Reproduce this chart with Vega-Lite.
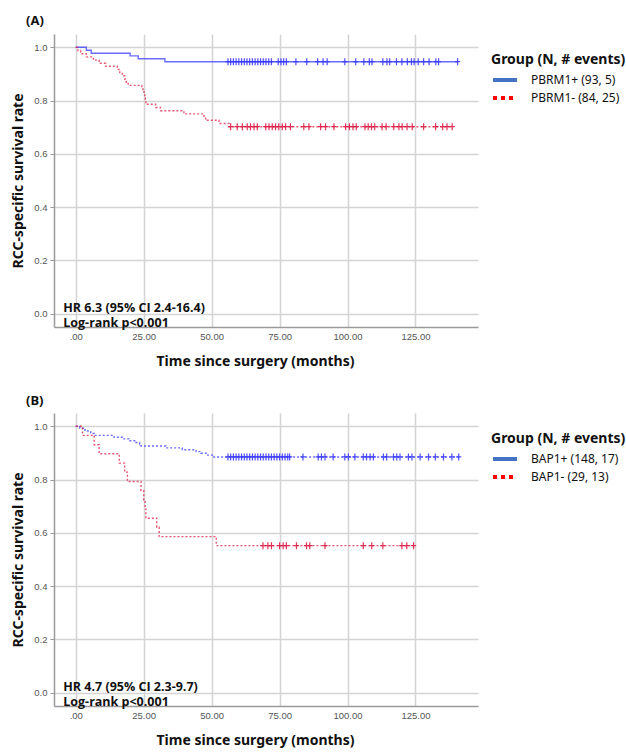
{
  "$schema": "https://vega.github.io/schema/vega-lite/v6.json",
  "padding": {"left": 11, "top": 15, "right": 0, "bottom": 0},
  "background": "white",
  "config": {
    "view": {"stroke": null},
    "font": "Noto Sans",
    "axis": {
      "gridColor": "#d4d4d4", "gridWidth": 1.5, "domainColor": "#9a9a9a", "domainWidth": 1.5,
      "labelFont": "Liberation Sans", "labelFontSize": 9.5, "labelColor": "#555555",
      "titleFont": "Noto Sans", "titleFontSize": 14, "titleFontWeight": "bold", "titleColor": "#111111"
    },
    "title": {"font": "Noto Sans", "fontSize": 13, "fontWeight": "bold", "color": "#111111", "anchor": "start", "frame": "group"},
    "legend": {
      "orient": "none", "legendX": 437, "legendY": 19,
      "titleFont": "Noto Sans", "titleFontSize": 14, "titleFontWeight": "bold", "titleColor": "#111111", "titlePadding": 5,
      "labelFont": "Noto Sans", "labelFontSize": 12, "labelColor": "#111111", "labelOffset": 24,
      "symbolType": "M-1,0H3", "symbolStrokeWidth": 4, "symbolSize": 144, "symbolOpacity": 1, "rowPadding": 2, "titleLimit": 300, "labelLimit": 300
    }
  },
  "datasets": {
    "curveA": [
      {"group": "PBRM1+ (93, 5)", "t": 0, "s": 1},
      {"group": "PBRM1+ (93, 5)", "t": 3.9, "s": 0.989},
      {"group": "PBRM1+ (93, 5)", "t": 5.7, "s": 0.978},
      {"group": "PBRM1+ (93, 5)", "t": 20, "s": 0.968},
      {"group": "PBRM1+ (93, 5)", "t": 23, "s": 0.957},
      {"group": "PBRM1+ (93, 5)", "t": 32.8, "s": 0.946},
      {"group": "PBRM1+ (93, 5)", "t": 140.5, "s": 0.946},
      {"group": "PBRM1- (84, 25)", "t": 0, "s": 1},
      {"group": "PBRM1- (84, 25)", "t": 0.8, "s": 0.988},
      {"group": "PBRM1- (84, 25)", "t": 1.8, "s": 0.976},
      {"group": "PBRM1- (84, 25)", "t": 3.9, "s": 0.964},
      {"group": "PBRM1- (84, 25)", "t": 6.5, "s": 0.952},
      {"group": "PBRM1- (84, 25)", "t": 8.6, "s": 0.94},
      {"group": "PBRM1- (84, 25)", "t": 11, "s": 0.929},
      {"group": "PBRM1- (84, 25)", "t": 15.3, "s": 0.917},
      {"group": "PBRM1- (84, 25)", "t": 16.2, "s": 0.905},
      {"group": "PBRM1- (84, 25)", "t": 17.1, "s": 0.893},
      {"group": "PBRM1- (84, 25)", "t": 18, "s": 0.881},
      {"group": "PBRM1- (84, 25)", "t": 18.6, "s": 0.869},
      {"group": "PBRM1- (84, 25)", "t": 19.3, "s": 0.857},
      {"group": "PBRM1- (84, 25)", "t": 24.3, "s": 0.845},
      {"group": "PBRM1- (84, 25)", "t": 24.7, "s": 0.833},
      {"group": "PBRM1- (84, 25)", "t": 25.1, "s": 0.821},
      {"group": "PBRM1- (84, 25)", "t": 25.4, "s": 0.81},
      {"group": "PBRM1- (84, 25)", "t": 25.6, "s": 0.798},
      {"group": "PBRM1- (84, 25)", "t": 25.8, "s": 0.786},
      {"group": "PBRM1- (84, 25)", "t": 29.4, "s": 0.774},
      {"group": "PBRM1- (84, 25)", "t": 31.2, "s": 0.762},
      {"group": "PBRM1- (84, 25)", "t": 39.8, "s": 0.75},
      {"group": "PBRM1- (84, 25)", "t": 47.2, "s": 0.738},
      {"group": "PBRM1- (84, 25)", "t": 47.8, "s": 0.726},
      {"group": "PBRM1- (84, 25)", "t": 52.7, "s": 0.714},
      {"group": "PBRM1- (84, 25)", "t": 56.4, "s": 0.702},
      {"group": "PBRM1- (84, 25)", "t": 138.5, "s": 0.702}
    ],
    "censorA": [
      {"group": "PBRM1+ (93, 5)", "t": 56, "s": 0.946}, {"group": "PBRM1+ (93, 5)", "t": 57, "s": 0.946},
      {"group": "PBRM1+ (93, 5)", "t": 58, "s": 0.946}, {"group": "PBRM1+ (93, 5)", "t": 59, "s": 0.946},
      {"group": "PBRM1+ (93, 5)", "t": 60, "s": 0.946}, {"group": "PBRM1+ (93, 5)", "t": 61, "s": 0.946},
      {"group": "PBRM1+ (93, 5)", "t": 62, "s": 0.946}, {"group": "PBRM1+ (93, 5)", "t": 63, "s": 0.946},
      {"group": "PBRM1+ (93, 5)", "t": 64, "s": 0.946}, {"group": "PBRM1+ (93, 5)", "t": 65, "s": 0.946},
      {"group": "PBRM1+ (93, 5)", "t": 66, "s": 0.946}, {"group": "PBRM1+ (93, 5)", "t": 67, "s": 0.946},
      {"group": "PBRM1+ (93, 5)", "t": 68, "s": 0.946}, {"group": "PBRM1+ (93, 5)", "t": 69, "s": 0.946},
      {"group": "PBRM1+ (93, 5)", "t": 70, "s": 0.946}, {"group": "PBRM1+ (93, 5)", "t": 71, "s": 0.946},
      {"group": "PBRM1+ (93, 5)", "t": 72, "s": 0.946}, {"group": "PBRM1+ (93, 5)", "t": 74.5, "s": 0.946},
      {"group": "PBRM1+ (93, 5)", "t": 75.5, "s": 0.946}, {"group": "PBRM1+ (93, 5)", "t": 76.5, "s": 0.946},
      {"group": "PBRM1+ (93, 5)", "t": 77.5, "s": 0.946}, {"group": "PBRM1+ (93, 5)", "t": 81, "s": 0.946},
      {"group": "PBRM1+ (93, 5)", "t": 85, "s": 0.946}, {"group": "PBRM1+ (93, 5)", "t": 89, "s": 0.946},
      {"group": "PBRM1+ (93, 5)", "t": 91, "s": 0.946}, {"group": "PBRM1+ (93, 5)", "t": 92.5, "s": 0.946},
      {"group": "PBRM1+ (93, 5)", "t": 99, "s": 0.946}, {"group": "PBRM1+ (93, 5)", "t": 103, "s": 0.946},
      {"group": "PBRM1+ (93, 5)", "t": 106, "s": 0.946}, {"group": "PBRM1+ (93, 5)", "t": 108, "s": 0.946},
      {"group": "PBRM1+ (93, 5)", "t": 109, "s": 0.946}, {"group": "PBRM1+ (93, 5)", "t": 113, "s": 0.946},
      {"group": "PBRM1+ (93, 5)", "t": 114.5, "s": 0.946}, {"group": "PBRM1+ (93, 5)", "t": 115.5, "s": 0.946},
      {"group": "PBRM1+ (93, 5)", "t": 118, "s": 0.946}, {"group": "PBRM1+ (93, 5)", "t": 120, "s": 0.946},
      {"group": "PBRM1+ (93, 5)", "t": 122, "s": 0.946}, {"group": "PBRM1+ (93, 5)", "t": 123.5, "s": 0.946},
      {"group": "PBRM1+ (93, 5)", "t": 124.5, "s": 0.946}, {"group": "PBRM1+ (93, 5)", "t": 126, "s": 0.946},
      {"group": "PBRM1+ (93, 5)", "t": 128, "s": 0.946}, {"group": "PBRM1+ (93, 5)", "t": 130, "s": 0.946},
      {"group": "PBRM1+ (93, 5)", "t": 132.5, "s": 0.946}, {"group": "PBRM1+ (93, 5)", "t": 133.5, "s": 0.946},
      {"group": "PBRM1+ (93, 5)", "t": 140.5, "s": 0.946},
      {"group": "PBRM1- (84, 25)", "t": 57, "s": 0.702}, {"group": "PBRM1- (84, 25)", "t": 59.4, "s": 0.702},
      {"group": "PBRM1- (84, 25)", "t": 61.3, "s": 0.702}, {"group": "PBRM1- (84, 25)", "t": 63.1, "s": 0.702},
      {"group": "PBRM1- (84, 25)", "t": 64.3, "s": 0.702}, {"group": "PBRM1- (84, 25)", "t": 65.6, "s": 0.702},
      {"group": "PBRM1- (84, 25)", "t": 66.8, "s": 0.702}, {"group": "PBRM1- (84, 25)", "t": 69.9, "s": 0.702},
      {"group": "PBRM1- (84, 25)", "t": 71.1, "s": 0.702}, {"group": "PBRM1- (84, 25)", "t": 72.3, "s": 0.702},
      {"group": "PBRM1- (84, 25)", "t": 73.5, "s": 0.702}, {"group": "PBRM1- (84, 25)", "t": 74.7, "s": 0.702},
      {"group": "PBRM1- (84, 25)", "t": 76, "s": 0.702}, {"group": "PBRM1- (84, 25)", "t": 77.2, "s": 0.702},
      {"group": "PBRM1- (84, 25)", "t": 79, "s": 0.702}, {"group": "PBRM1- (84, 25)", "t": 83.9, "s": 0.702},
      {"group": "PBRM1- (84, 25)", "t": 85.8, "s": 0.702}, {"group": "PBRM1- (84, 25)", "t": 90.1, "s": 0.702},
      {"group": "PBRM1- (84, 25)", "t": 91.9, "s": 0.702}, {"group": "PBRM1- (84, 25)", "t": 95, "s": 0.702},
      {"group": "PBRM1- (84, 25)", "t": 99.3, "s": 0.702}, {"group": "PBRM1- (84, 25)", "t": 100.7, "s": 0.702},
      {"group": "PBRM1- (84, 25)", "t": 102, "s": 0.702}, {"group": "PBRM1- (84, 25)", "t": 103.2, "s": 0.702},
      {"group": "PBRM1- (84, 25)", "t": 106.4, "s": 0.702}, {"group": "PBRM1- (84, 25)", "t": 107.6, "s": 0.702},
      {"group": "PBRM1- (84, 25)", "t": 108.8, "s": 0.702}, {"group": "PBRM1- (84, 25)", "t": 110, "s": 0.702},
      {"group": "PBRM1- (84, 25)", "t": 112.7, "s": 0.702}, {"group": "PBRM1- (84, 25)", "t": 114.2, "s": 0.702},
      {"group": "PBRM1- (84, 25)", "t": 117, "s": 0.702}, {"group": "PBRM1- (84, 25)", "t": 118.9, "s": 0.702},
      {"group": "PBRM1- (84, 25)", "t": 120.1, "s": 0.702}, {"group": "PBRM1- (84, 25)", "t": 121.9, "s": 0.702},
      {"group": "PBRM1- (84, 25)", "t": 123.8, "s": 0.702}, {"group": "PBRM1- (84, 25)", "t": 128, "s": 0.702},
      {"group": "PBRM1- (84, 25)", "t": 132.4, "s": 0.702}, {"group": "PBRM1- (84, 25)", "t": 135, "s": 0.702},
      {"group": "PBRM1- (84, 25)", "t": 136.6, "s": 0.702}, {"group": "PBRM1- (84, 25)", "t": 138.5, "s": 0.702}
    ],
    "curveB": [
      {"group": "BAP1+ (148, 17)", "t": 0, "s": 1},
      {"group": "BAP1+ (148, 17)", "t": 1.5, "s": 0.993},
      {"group": "BAP1+ (148, 17)", "t": 3, "s": 0.986},
      {"group": "BAP1+ (148, 17)", "t": 4.5, "s": 0.98},
      {"group": "BAP1+ (148, 17)", "t": 5.5, "s": 0.973},
      {"group": "BAP1+ (148, 17)", "t": 6.8, "s": 0.966},
      {"group": "BAP1+ (148, 17)", "t": 14.1, "s": 0.959},
      {"group": "BAP1+ (148, 17)", "t": 17.2, "s": 0.953},
      {"group": "BAP1+ (148, 17)", "t": 19.6, "s": 0.946},
      {"group": "BAP1+ (148, 17)", "t": 22.1, "s": 0.939},
      {"group": "BAP1+ (148, 17)", "t": 23.5, "s": 0.932},
      {"group": "BAP1+ (148, 17)", "t": 24, "s": 0.926},
      {"group": "BAP1+ (148, 17)", "t": 33.2, "s": 0.919},
      {"group": "BAP1+ (148, 17)", "t": 39.2, "s": 0.912},
      {"group": "BAP1+ (148, 17)", "t": 44.3, "s": 0.905},
      {"group": "BAP1+ (148, 17)", "t": 46.1, "s": 0.899},
      {"group": "BAP1+ (148, 17)", "t": 48, "s": 0.892},
      {"group": "BAP1+ (148, 17)", "t": 50.5, "s": 0.885},
      {"group": "BAP1+ (148, 17)", "t": 141, "s": 0.885},
      {"group": "BAP1- (29, 13)", "t": 0, "s": 1},
      {"group": "BAP1- (29, 13)", "t": 2.5, "s": 0.966},
      {"group": "BAP1- (29, 13)", "t": 6.8, "s": 0.931},
      {"group": "BAP1- (29, 13)", "t": 8.6, "s": 0.897},
      {"group": "BAP1- (29, 13)", "t": 16, "s": 0.862},
      {"group": "BAP1- (29, 13)", "t": 18, "s": 0.828},
      {"group": "BAP1- (29, 13)", "t": 19, "s": 0.793},
      {"group": "BAP1- (29, 13)", "t": 24, "s": 0.759},
      {"group": "BAP1- (29, 13)", "t": 25, "s": 0.724},
      {"group": "BAP1- (29, 13)", "t": 25.5, "s": 0.69},
      {"group": "BAP1- (29, 13)", "t": 25.8, "s": 0.655},
      {"group": "BAP1- (29, 13)", "t": 29.8, "s": 0.621},
      {"group": "BAP1- (29, 13)", "t": 30.7, "s": 0.586},
      {"group": "BAP1- (29, 13)", "t": 51.7, "s": 0.552},
      {"group": "BAP1- (29, 13)", "t": 124.3, "s": 0.552}
    ],
    "censorB": [
      {"group": "BAP1+ (148, 17)", "t": 56, "s": 0.885}, {"group": "BAP1+ (148, 17)", "t": 57, "s": 0.885},
      {"group": "BAP1+ (148, 17)", "t": 58, "s": 0.885}, {"group": "BAP1+ (148, 17)", "t": 59, "s": 0.885},
      {"group": "BAP1+ (148, 17)", "t": 60, "s": 0.885}, {"group": "BAP1+ (148, 17)", "t": 61, "s": 0.885},
      {"group": "BAP1+ (148, 17)", "t": 62, "s": 0.885}, {"group": "BAP1+ (148, 17)", "t": 63, "s": 0.885},
      {"group": "BAP1+ (148, 17)", "t": 64, "s": 0.885}, {"group": "BAP1+ (148, 17)", "t": 65, "s": 0.885},
      {"group": "BAP1+ (148, 17)", "t": 66, "s": 0.885}, {"group": "BAP1+ (148, 17)", "t": 67, "s": 0.885},
      {"group": "BAP1+ (148, 17)", "t": 68, "s": 0.885}, {"group": "BAP1+ (148, 17)", "t": 69, "s": 0.885},
      {"group": "BAP1+ (148, 17)", "t": 70, "s": 0.885}, {"group": "BAP1+ (148, 17)", "t": 71, "s": 0.885},
      {"group": "BAP1+ (148, 17)", "t": 72, "s": 0.885}, {"group": "BAP1+ (148, 17)", "t": 73, "s": 0.885},
      {"group": "BAP1+ (148, 17)", "t": 74, "s": 0.885}, {"group": "BAP1+ (148, 17)", "t": 75, "s": 0.885},
      {"group": "BAP1+ (148, 17)", "t": 76, "s": 0.885}, {"group": "BAP1+ (148, 17)", "t": 77, "s": 0.885},
      {"group": "BAP1+ (148, 17)", "t": 78, "s": 0.885}, {"group": "BAP1+ (148, 17)", "t": 78.7, "s": 0.885},
      {"group": "BAP1+ (148, 17)", "t": 83.6, "s": 0.885}, {"group": "BAP1+ (148, 17)", "t": 89.2, "s": 0.885},
      {"group": "BAP1+ (148, 17)", "t": 90.4, "s": 0.885}, {"group": "BAP1+ (148, 17)", "t": 91.7, "s": 0.885},
      {"group": "BAP1+ (148, 17)", "t": 94.7, "s": 0.885}, {"group": "BAP1+ (148, 17)", "t": 99, "s": 0.885},
      {"group": "BAP1+ (148, 17)", "t": 100.3, "s": 0.885}, {"group": "BAP1+ (148, 17)", "t": 102.7, "s": 0.885},
      {"group": "BAP1+ (148, 17)", "t": 105.8, "s": 0.885}, {"group": "BAP1+ (148, 17)", "t": 107, "s": 0.885},
      {"group": "BAP1+ (148, 17)", "t": 108.3, "s": 0.885}, {"group": "BAP1+ (148, 17)", "t": 109.5, "s": 0.885},
      {"group": "BAP1+ (148, 17)", "t": 113.2, "s": 0.885}, {"group": "BAP1+ (148, 17)", "t": 114.4, "s": 0.885},
      {"group": "BAP1+ (148, 17)", "t": 116.9, "s": 0.885}, {"group": "BAP1+ (148, 17)", "t": 118.1, "s": 0.885},
      {"group": "BAP1+ (148, 17)", "t": 119.3, "s": 0.885}, {"group": "BAP1+ (148, 17)", "t": 122.4, "s": 0.885},
      {"group": "BAP1+ (148, 17)", "t": 123.7, "s": 0.885}, {"group": "BAP1+ (148, 17)", "t": 126.7, "s": 0.885},
      {"group": "BAP1+ (148, 17)", "t": 129.8, "s": 0.885}, {"group": "BAP1+ (148, 17)", "t": 132.3, "s": 0.885},
      {"group": "BAP1+ (148, 17)", "t": 135.3, "s": 0.885}, {"group": "BAP1+ (148, 17)", "t": 138.4, "s": 0.885},
      {"group": "BAP1+ (148, 17)", "t": 140.9, "s": 0.885},
      {"group": "BAP1- (29, 13)", "t": 68.9, "s": 0.552}, {"group": "BAP1- (29, 13)", "t": 70.7, "s": 0.552},
      {"group": "BAP1- (29, 13)", "t": 72, "s": 0.552}, {"group": "BAP1- (29, 13)", "t": 75, "s": 0.552},
      {"group": "BAP1- (29, 13)", "t": 76.3, "s": 0.552}, {"group": "BAP1- (29, 13)", "t": 77.5, "s": 0.552},
      {"group": "BAP1- (29, 13)", "t": 81.2, "s": 0.552}, {"group": "BAP1- (29, 13)", "t": 84.9, "s": 0.552},
      {"group": "BAP1- (29, 13)", "t": 86.1, "s": 0.552}, {"group": "BAP1- (29, 13)", "t": 91.7, "s": 0.552},
      {"group": "BAP1- (29, 13)", "t": 105.8, "s": 0.552}, {"group": "BAP1- (29, 13)", "t": 108.9, "s": 0.552},
      {"group": "BAP1- (29, 13)", "t": 113, "s": 0.552}, {"group": "BAP1- (29, 13)", "t": 120, "s": 0.552},
      {"group": "BAP1- (29, 13)", "t": 121.8, "s": 0.552}, {"group": "BAP1- (29, 13)", "t": 124.3, "s": 0.552}
    ],
    "noteA": [{"t": -4.6, "s": 0.022, "label": "HR 6.3 (95% CI 2.4-16.4)\nLog-rank p<0.001"}],
    "noteB": [{"t": -4.6, "s": 0.022, "label": "HR 4.7 (95% CI 2.3-9.7)\nLog-rank p<0.001"}]
  },
  "vconcat": [
    {
      "width": 424, "height": 293,
      "title": {"text": "(A)", "dx": -28, "offset": 6},
      "encoding": {
        "x": {"field": "t", "type": "quantitative", "scale": {"domain": [-8, 148], "nice": false, "zero": false},
          "axis": {"title": "Time since surgery (months)", "values": [0, 25, 50, 75, 100, 125], "labelExpr": "datum.value == 0 ? '.00' : format(datum.value, '.2f')", "ticks": false, "labelPadding": 4, "titlePadding": 14, "titleX": 201, "titleAnchor": "middle"}},
        "y": {"field": "s", "type": "quantitative", "scale": {"domain": [-0.05, 1.05], "nice": false, "zero": false},
          "axis": {"title": "RCC-specific survival rate", "values": [0, 0.2, 0.4, 0.6, 0.8, 1.0], "format": ".1f", "tickSize": 4, "tickColor": "#9a9a9a", "labelPadding": 3, "titlePadding": 8}}
      },
      "layer": [
        {
          "data": {"name": "curveA"},
          "transform": [{"filter": "datum.group == 'PBRM1+ (93, 5)'"}],
          "mark": {"type": "line", "interpolate": "step-after", "strokeWidth": 1.4, "opacity": 0.75},
          "encoding": {"color": {"field": "group", "type": "nominal", "scale": {"range": ["#3a3aff", "#dc1e46"]}, "legend": null}}
        },
        {
          "data": {"name": "curveA"},
          "transform": [{"filter": "datum.group == 'PBRM1- (84, 25)'"}],
          "mark": {"type": "line", "interpolate": "step-after", "strokeWidth": 1.4, "opacity": 0.75, "strokeDash": [2, 2]},
          "encoding": {"color": {"field": "group", "type": "nominal", "legend": null}}
        },
        {
          "data": {"name": "censorA"},
          "mark": {"type": "point", "shape": "M0,-1V1M-0.75,0H0.75", "filled": false, "size": 49, "strokeWidth": 1.2, "opacity": 0.9},
          "encoding": {"color": {"field": "group", "type": "nominal", "legend": null}}
        },
        {
          "data": {"name": "curveA"},
          "mark": {"type": "line", "interpolate": "step-after", "strokeWidth": 4, "opacity": 0},
          "encoding": {
            "stroke": {"field": "group", "type": "nominal",
              "scale": {"domain": ["PBRM1+ (93, 5)", "PBRM1- (84, 25)"], "range": ["#4472c4", "#ff0000"]},
              "legend": {"title": "Group (N, # events)"}},
            "strokeDash": {"field": "group", "type": "nominal",
              "scale": {"domain": ["PBRM1+ (93, 5)", "PBRM1- (84, 25)"], "range": [[1, 0], [4, 4]]},
              "legend": {"title": "Group (N, # events)"}}
          }
        },
        {
          "data": {"name": "noteA"},
          "mark": {"type": "text", "align": "left", "baseline": "middle", "lineBreak": "\n", "lineHeight": 15.5, "fontSize": 12.5, "fontWeight": "bold", "font": "Open Sans", "color": "#111111"},
          "encoding": {"text": {"field": "label", "type": "nominal"}}
        }
      ]
    },
    {
      "width": 424, "height": 293,
      "title": {"text": "(B)", "dx": -28, "offset": 5},
      "encoding": {
        "x": {"field": "t", "type": "quantitative", "scale": {"domain": [-8, 148], "nice": false, "zero": false},
          "axis": {"title": "Time since surgery (months)", "values": [0, 25, 50, 75, 100, 125], "labelExpr": "datum.value == 0 ? '.00' : format(datum.value, '.2f')", "ticks": false, "labelPadding": 4, "titlePadding": 14, "titleX": 201, "titleAnchor": "middle"}},
        "y": {"field": "s", "type": "quantitative", "scale": {"domain": [-0.05, 1.05], "nice": false, "zero": false},
          "axis": {"title": "RCC-specific survival rate", "values": [0, 0.2, 0.4, 0.6, 0.8, 1.0], "format": ".1f", "tickSize": 4, "tickColor": "#9a9a9a", "labelPadding": 3, "titlePadding": 8}}
      },
      "layer": [
        {
          "data": {"name": "curveB"},
          "mark": {"type": "line", "interpolate": "step-after", "strokeWidth": 1.4, "opacity": 0.75, "strokeDash": [2, 2]},
          "encoding": {"color": {"field": "group", "type": "nominal", "scale": {"range": ["#3a3aff", "#dc1e46"]}, "legend": null}}
        },
        {
          "data": {"name": "censorB"},
          "mark": {"type": "point", "shape": "M0,-1V1M-0.75,0H0.75", "filled": false, "size": 49, "strokeWidth": 1.2, "opacity": 0.9},
          "encoding": {"color": {"field": "group", "type": "nominal", "legend": null}}
        },
        {
          "data": {"name": "curveB"},
          "mark": {"type": "line", "interpolate": "step-after", "strokeWidth": 4, "opacity": 0},
          "encoding": {
            "stroke": {"field": "group", "type": "nominal",
              "scale": {"domain": ["BAP1+ (148, 17)", "BAP1- (29, 13)"], "range": ["#4472c4", "#ff0000"]},
              "legend": {"title": "Group (N, # events)"}},
            "strokeDash": {"field": "group", "type": "nominal",
              "scale": {"domain": ["BAP1+ (148, 17)", "BAP1- (29, 13)"], "range": [[1, 0], [4, 4]]},
              "legend": {"title": "Group (N, # events)"}}
          }
        },
        {
          "data": {"name": "noteB"},
          "mark": {"type": "text", "align": "left", "baseline": "middle", "lineBreak": "\n", "lineHeight": 15.5, "fontSize": 12.5, "fontWeight": "bold", "font": "Open Sans", "color": "#111111"},
          "encoding": {"text": {"field": "label", "type": "nominal"}}
        }
      ]
    }
  ],
  "spacing": 26,
  "resolve": {
    "scale": {"color": "independent", "stroke": "independent", "strokeDash": "independent"},
    "legend": {"color": "independent", "stroke": "independent", "strokeDash": "independent"}
  }
}
